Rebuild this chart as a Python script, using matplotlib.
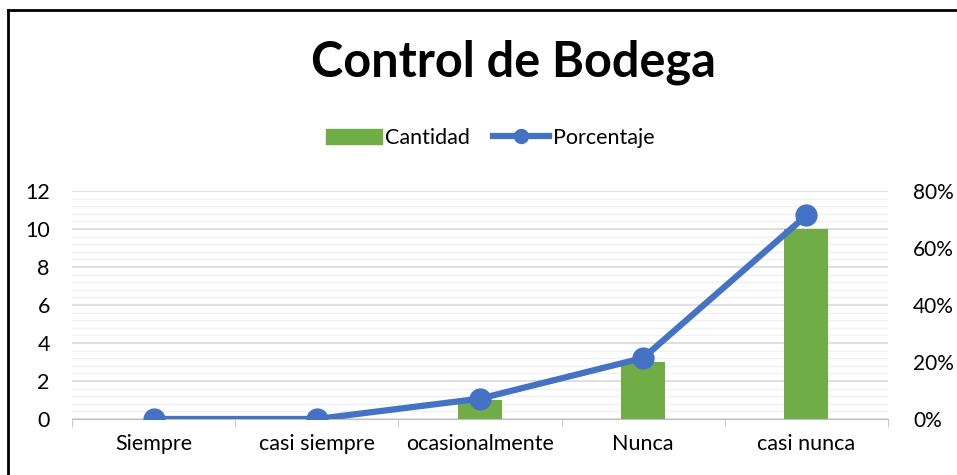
import numpy as np
import matplotlib.pyplot as plt
from matplotlib.lines import Line2D
from matplotlib.ticker import MultipleLocator, FuncFormatter

categorias = ["Siempre", "casi siempre", "ocasionalmente", "Nunca", "casi nunca"]
cantidad = [0, 0, 1, 3, 10]
porcentaje = [0.0, 0.0, 0.0714, 0.2143, 0.7143]

plt.rcParams['font.family'] = ['Lato', 'DejaVu Sans']

fig = plt.figure(figsize=(9.57, 4.75), dpi=100)
ax = fig.add_axes([72 / 957, 1 - 419 / 475, 816 / 957, 228 / 475])
ax2 = ax.twinx()

x = np.arange(len(categorias))
ax.bar(x, cantidad, width=0.27, color="#70AD47", zorder=2, label="Cantidad")
ax2.plot(x, porcentaje, color="#4472C4", lw=4.5, marker="o", ms=15,
         solid_capstyle="round", zorder=3, label="Porcentaje")

ax.set_xlim(-0.5, len(categorias) - 0.5)
ax.set_ylim(0, 12)
ax2.set_ylim(0, 0.8)
ax.yaxis.set_major_locator(MultipleLocator(2))
ax.yaxis.set_minor_locator(MultipleLocator(0.4))
ax2.yaxis.set_major_locator(MultipleLocator(0.2))
ax2.yaxis.set_major_formatter(FuncFormatter(lambda v, p: f"{v * 100:.0f}%"))

ax.grid(axis="y", which="major", color="#D9D9D9", lw=1.2, zorder=0)
ax.grid(axis="y", which="minor", color="#F0F0F0", lw=1.0, zorder=0)
ax.set_axisbelow(True)

ax.set_xticks(x)
ax.set_xticklabels(categorias)
ax.set_xticks(np.arange(-0.5, len(categorias)), minor=True)
ax.tick_params(axis="x", which="major", length=0, pad=11, labelsize=15.5)
ax.tick_params(axis="x", which="minor", length=6, color="#BFBFBF")
ax.tick_params(axis="y", which="both", length=0, labelsize=15.5, pad=16)
ax2.tick_params(axis="y", length=0, labelsize=15, pad=18)

for a in (ax, ax2):
    for s in ("top", "left", "right"):
        a.spines[s].set_visible(False)
    a.spines["bottom"].set_color("#BFBFBF")
ax2.spines["bottom"].set_visible(False)

fig.suptitle("Control de Bodega", x=0.536, y=1 - 62 / 475, va="center",
             fontsize=35, fontweight="bold")

handles = [plt.Rectangle((0, 0), 1, 1, color="#70AD47"),
           Line2D([], [], color="#4472C4", lw=4.5, marker="o", ms=10)]
fig.legend(handles, ["Cantidad", "Porcentaje"], loc="center",
           bbox_to_anchor=(0.512, 1 - 138 / 475), ncol=2, frameon=False,
           fontsize=15.5, handlelength=2.6, handletextpad=0.15, columnspacing=1.1)

# black frame of the chart area (left and top edges visible)
fig.add_artist(Line2D([8 / 957, 8 / 957], [0, 1 - 10 / 475], color="black",
                      lw=2, transform=fig.transFigure))
fig.add_artist(Line2D([8 / 957, 1], [1 - 10 / 475, 1 - 10 / 475], color="black",
                      lw=2, transform=fig.transFigure))

fig.savefig("out.png", dpi=100)
